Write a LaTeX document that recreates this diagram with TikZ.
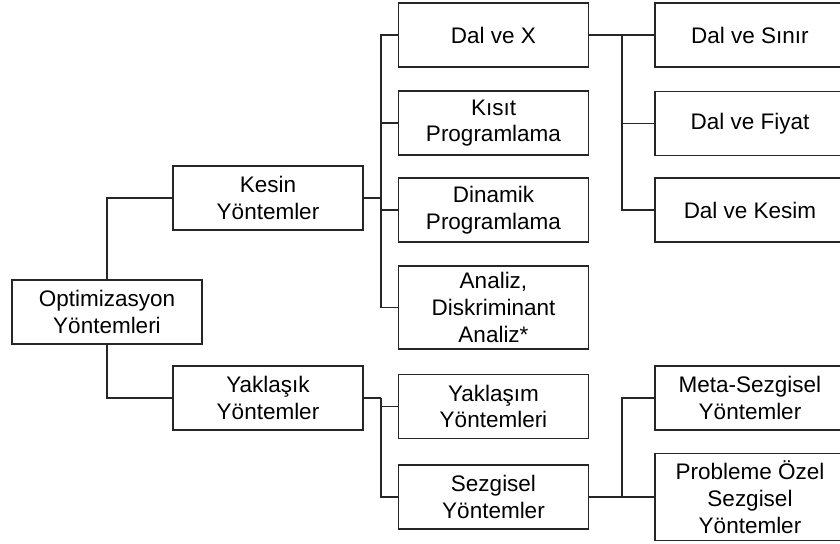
\documentclass[tikz,border=0pt]{standalone}
\usepackage{fontspec}
\setmainfont{Liberation Sans}
\begin{document}
\begin{tikzpicture}
[boxdecorate/.style={shape=rectangle,draw=black!85,line width=1pt,align=center,inner sep=2pt,%
  minimum width=4.75cm,minimum height=1.6cm,font=\fontsize{16}{19}\selectfont},%
  linedecorate/.style={-,draw=black!85,line width=1pt},%
  elbow/.style={linedecorate,to path={|- (\tikztotarget)}}]
\useasboundingbox (0,0) rectangle (21,-13.6);
%%% root and the two main branches
% nodes or boxes
\node (opt) at (2.675,-7.8) [boxdecorate] {Optimizasyon\\Yöntemleri};
\node (kesin) at (6.7,-4.95) [boxdecorate] {Kesin\\Yöntemler};
\node (yaklasik) at (6.7,-9.95) [boxdecorate] {Yaklaşık\\Yöntemler};
%%% children of Kesin Yöntemler
\node (dalx) at (12.3375,-0.875) [boxdecorate] {Dal ve X};
\node (kisit) at (12.3375,-3.075) [boxdecorate] {Kısıt\\Programlama};
\node (dinamik) at (12.3375,-5.25) [boxdecorate] {Dinamik\\Programlama};
\node (analiz) at (12.3375,-7.6875) [boxdecorate,minimum height=2.075cm] {Analiz,\\Diskriminant\\Analiz*};
%%% children of Yaklaşık Yöntemler
\node (yaklasim) at (12.3375,-10.1625) [boxdecorate] {Yaklaşım\\Yöntemleri};
\node (sezgisel) at (12.3375,-12.425) [boxdecorate] {Sezgisel\\Yöntemler};
%%% children of Dal ve X
\node (sinir) at (18.75,-0.875) [boxdecorate] {Dal ve Sınır};
\node (fiyat) at (18.75,-3.0875) [boxdecorate] {Dal ve Fiyat};
\node (kesim) at (18.75,-5.25) [boxdecorate] {Dal ve Kesim};
%%% children of Sezgisel Yöntemler
\node (meta) at (18.75,-9.95) [boxdecorate] {Meta-Sezgisel\\Yöntemler};
\node (probleme) at (18.75,-12.425) [boxdecorate,minimum height=2.175cm] {Probleme Özel\\Sezgisel\\Yöntemler};
% bus points
\coordinate (kb) at (9.525,-4.95);
\coordinate (yb) at (9.525,-9.95);
\coordinate (db) at (15.55,-0.875);
\coordinate (sb) at (15.55,-12.425);
% edges or lines
\path
(opt.north) edge[elbow] (kesin.west)
(opt.south) edge[elbow] (yaklasik.west)
(kesin.east) edge[linedecorate] (kb)
(kb) edge[elbow] (dalx.west)
(kb) edge[elbow] (kisit.west)
(kb) edge[elbow] (dinamik.west)
(kb) edge[elbow] (analiz.west)
(yaklasik.east) edge[linedecorate] (yb)
(yb) edge[elbow] (yaklasim.west)
(yb) edge[elbow] (sezgisel.west)
(dalx.east) edge[linedecorate] (sinir.west)
(db) edge[elbow] (fiyat.west)
(db) edge[elbow] (kesim.west)
(sezgisel.east) edge[linedecorate] (probleme.west)
(sb) edge[elbow] (meta.west);
\end{tikzpicture}
\end{document}
